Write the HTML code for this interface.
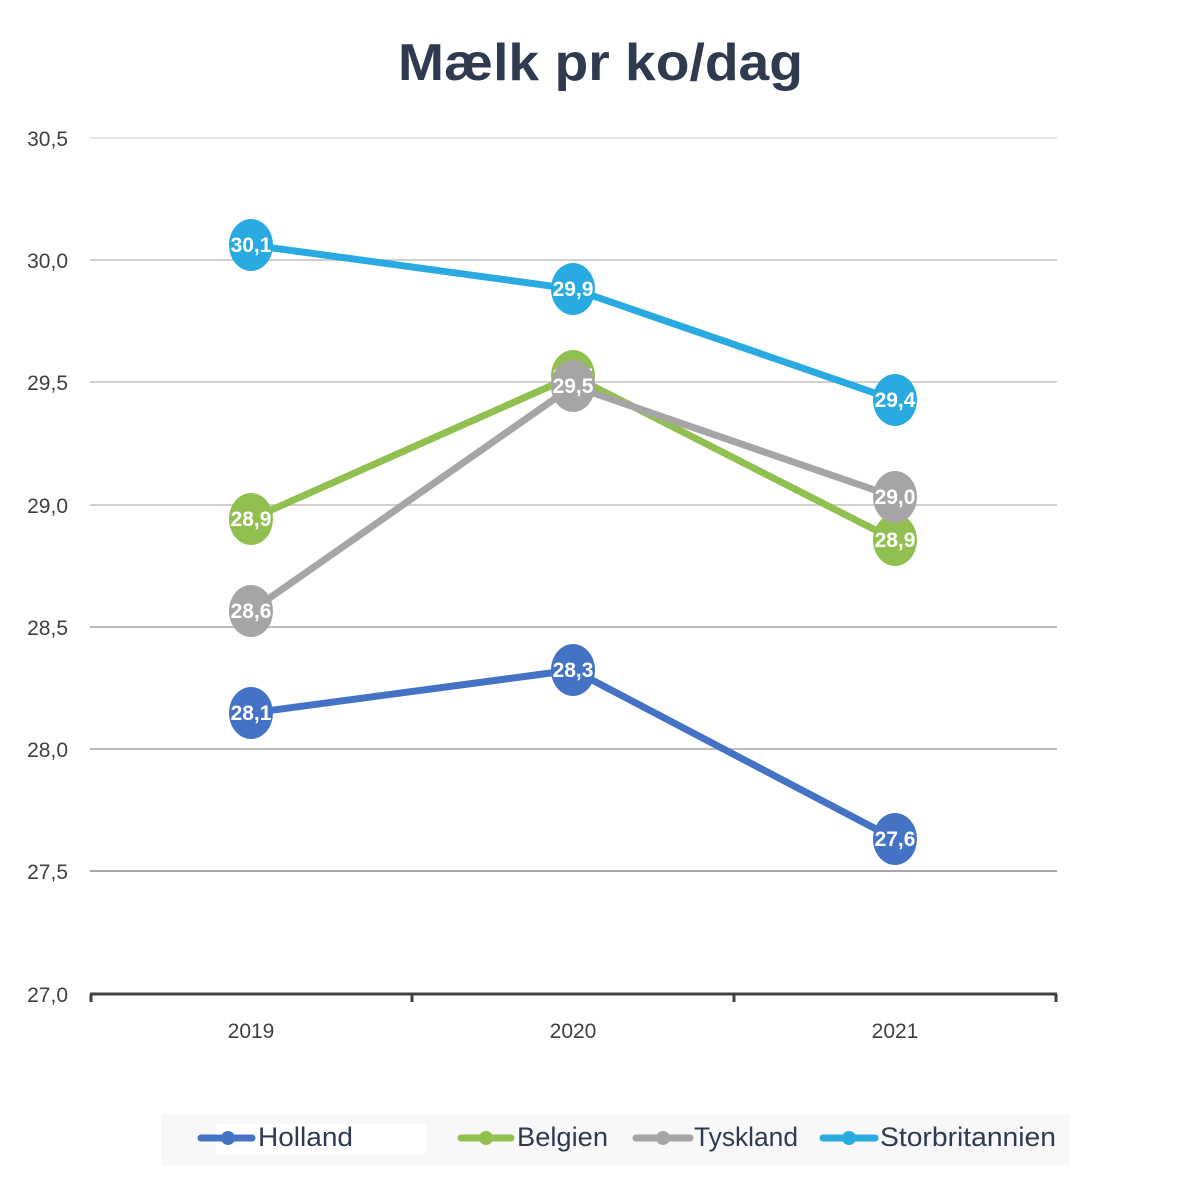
<!DOCTYPE html>
<html><head><meta charset="utf-8"><style>
body{margin:0;background:#fff;}
svg{display:block;font-family:"Liberation Sans",sans-serif;}
</style></head><body>
<svg width="1200" height="1200" viewBox="0 0 1200 1200">
<text x="398" y="80" font-size="52" font-weight="bold" fill="#2f3a4f" textLength="405" lengthAdjust="spacingAndGlyphs">Mælk pr ko/dag</text>
<g stroke="#d0d0d0" stroke-width="2">
<line x1="90" y1="138" x2="1057" y2="138" stroke="#e6e6e6"/>
<line x1="90" y1="260" x2="1057" y2="260"/>
<line x1="90" y1="382" x2="1057" y2="382"/>
<line x1="90" y1="505" x2="1057" y2="505"/>
<line x1="90" y1="627" x2="1057" y2="627" stroke="#bdbdbd"/>
<line x1="90" y1="749" x2="1057" y2="749" stroke="#bdbdbd"/>
<line x1="90" y1="871" x2="1057" y2="871" stroke="#a8a8a8"/>
</g>
<line x1="90" y1="994" x2="1057" y2="994" stroke="#404040" stroke-width="3"/>
<g stroke="#404040" stroke-width="3">
<line x1="91" y1="994" x2="91" y2="1002"/><line x1="412" y1="994" x2="412" y2="1002"/>
<line x1="734" y1="994" x2="734" y2="1002"/><line x1="1056" y1="994" x2="1056" y2="1002"/>
</g>
<g font-size="21" fill="#404040" text-anchor="end">
<text x="68" y="146">30,5</text><text x="68" y="268">30,0</text><text x="68" y="390">29,5</text>
<text x="68" y="513">29,0</text><text x="68" y="635">28,5</text><text x="68" y="757">28,0</text>
<text x="68" y="879">27,5</text><text x="68" y="1002">27,0</text>
</g>
<g font-size="21" fill="#404040" text-anchor="middle">
<text x="251" y="1038">2019</text><text x="573" y="1038">2020</text><text x="895" y="1038">2021</text>
</g>
<g fill="none" stroke-width="7" stroke-linejoin="round">
<polyline points="251,713 573,670 895,839" stroke="#4472c4"/>
<polyline points="251,519 573,376 895,540" stroke="#92c050"/>
<polyline points="251,611 573,386 895,497" stroke="#a5a5a5"/>
<polyline points="251,245 573,289 895,400" stroke="#29abe2"/>
</g>
<g font-size="21" font-weight="bold" fill="#fff" text-anchor="middle">
<ellipse cx="251" cy="713" rx="22" ry="26" fill="#4472c4"/><text x="251" y="720">28,1</text>
<ellipse cx="573" cy="670" rx="22" ry="26" fill="#4472c4"/><text x="573" y="677">28,3</text>
<ellipse cx="895" cy="839" rx="22" ry="26" fill="#4472c4"/><text x="895" y="846">27,6</text>
<ellipse cx="251" cy="519" rx="22" ry="26" fill="#92c050"/><text x="251" y="526">28,9</text>
<ellipse cx="573" cy="376" rx="22" ry="26" fill="#92c050"/><text x="573" y="383">29,5</text>
<ellipse cx="895" cy="540" rx="22" ry="26" fill="#92c050"/><text x="895" y="547">28,9</text>
<ellipse cx="251" cy="611" rx="22" ry="26" fill="#a5a5a5"/><text x="251" y="618">28,6</text>
<ellipse cx="573" cy="386" rx="22" ry="26" fill="#a5a5a5"/><text x="573" y="393">29,5</text>
<ellipse cx="895" cy="497" rx="22" ry="26" fill="#a5a5a5"/><text x="895" y="504">29,0</text>
<ellipse cx="251" cy="245" rx="22" ry="26" fill="#29abe2"/><text x="251" y="252">30,1</text>
<ellipse cx="573" cy="289" rx="22" ry="26" fill="#29abe2"/><text x="573" y="296">29,9</text>
<ellipse cx="895" cy="400" rx="22" ry="26" fill="#29abe2"/><text x="895" y="407">29,4</text>
</g>
<rect x="161" y="1114" width="909" height="51" fill="#f8f8f8"/>
<rect x="216" y="1124" width="210" height="30" fill="#fff"/>
<g stroke-width="7" stroke-linecap="round">
<line x1="201" y1="1138" x2="252" y2="1138" stroke="#4472c4"/>
<line x1="461" y1="1138" x2="511" y2="1138" stroke="#92c050"/>
<line x1="636" y1="1138" x2="690" y2="1138" stroke="#a5a5a5"/>
<line x1="823" y1="1138" x2="875" y2="1138" stroke="#29abe2"/>
</g>
<circle cx="228" cy="1138" r="7" fill="#4472c4"/>
<circle cx="486" cy="1138" r="7" fill="#92c050"/>
<circle cx="663" cy="1138" r="7" fill="#a5a5a5"/>
<circle cx="849" cy="1138" r="7" fill="#29abe2"/>
<g font-size="27" fill="#2f3a4f" lengthAdjust="spacingAndGlyphs">
<text x="258" y="1146" textLength="95" lengthAdjust="spacingAndGlyphs">Holland</text>
<text x="517" y="1146" textLength="91" lengthAdjust="spacingAndGlyphs">Belgien</text>
<text x="694" y="1146" textLength="104" lengthAdjust="spacingAndGlyphs">Tyskland</text>
<text x="880" y="1146" textLength="176" lengthAdjust="spacingAndGlyphs">Storbritannien</text>
</g>
</svg>
</body></html>
